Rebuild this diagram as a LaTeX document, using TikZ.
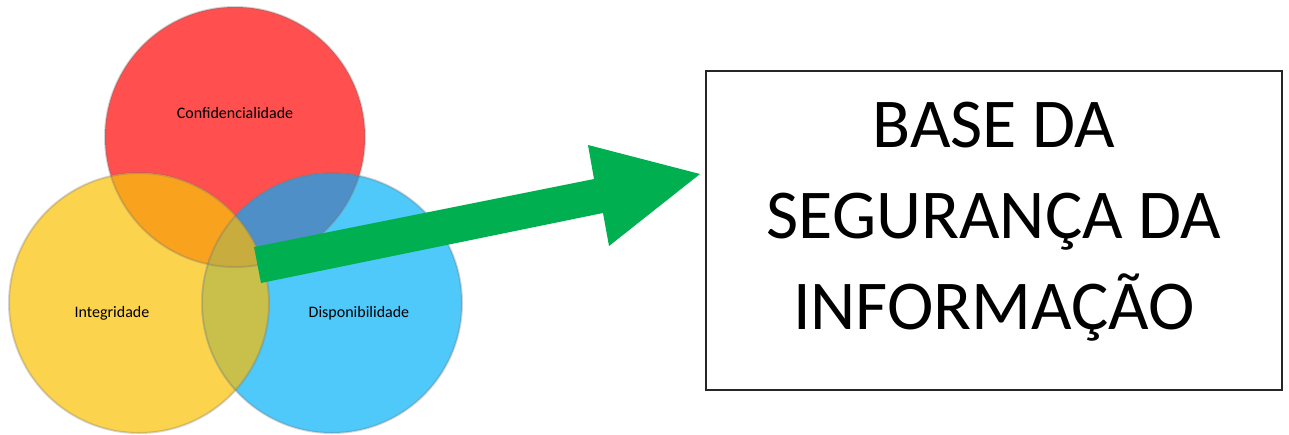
\documentclass[tikz,border=0pt]{standalone}
\usepackage{fontspec}
\setmainfont{Carlito}
\definecolor{cred}{HTML}{FF4F4F}
\definecolor{cyel}{HTML}{FCD34C}
\definecolor{cblu}{HTML}{4FC8FA}
\definecolor{cry}{HTML}{F8A21E}
\definecolor{crb}{HTML}{4F8FC8}
\definecolor{cyb}{HTML}{C8C04A}
\definecolor{cryb}{HTML}{C9AC3E}
\definecolor{cgreen}{HTML}{00B050}
\tikzset{
  rim/.style={draw=black!55, draw opacity=0.3, line width=2pt},
  small/.style={font=\fontsize{16}{19}\selectfont, text=black},
  big/.style={font=\fontsize{70}{91}\selectfont, align=center},
}
\begin{document}
\begin{tikzpicture}[x=1pt,y=-1pt]
\useasboundingbox (0,0) rectangle (1289,434);
\def\R{130}
\coordinate (cr) at (235,137);
\coordinate (cy) at (139,303);
\coordinate (cb) at (332,303);
% base fills
\fill[cred] (cr) circle (\R);
\fill[cyel] (cy) circle (\R);
\fill[cblu] (cb) circle (\R);
% overlaps
\begin{scope}
  \clip (cr) circle (\R);
  \fill[cry] (cy) circle (\R);
  \fill[crb] (cb) circle (\R);
\end{scope}
\begin{scope}
  \clip (cy) circle (\R);
  \fill[cyb] (cb) circle (\R);
  \clip (cb) circle (\R);
  \fill[cryb] (cr) circle (\R);
\end{scope}
% rims
\draw[rim] (cr) circle (\R);
\draw[rim] (cy) circle (\R);
\draw[rim] (cb) circle (\R);
% labels
\node[small] (conf) at (235,113) {Confidencialidade};
\node[small] (integ) at (112,313) {Integridade};
\node[small] (disp) at (359,313) {Disponibilidade};
% arrow
\coordinate (a1) at (254,247);
\coordinate (a2) at (594,179);
\coordinate (a3) at (588,145);
\coordinate (tip) at (700,174);
\coordinate (a5) at (609,246);
\coordinate (a6) at (603,213);
\coordinate (a7) at (261,283);
\fill[cgreen] (a1) -- (a2) -- (a3) -- (tip) -- (a5) -- (a6) -- (a7) -- cycle;
% box
\node[draw=black!85, line width=1.3pt, minimum width=576pt, minimum height=319pt, inner sep=0pt] (box) at (994,230.5) {};
\node[big] (title) at (994,222) {BASE DA\\SEGURANÇA DA\\INFORMAÇÃO};
\end{tikzpicture}
\end{document}
